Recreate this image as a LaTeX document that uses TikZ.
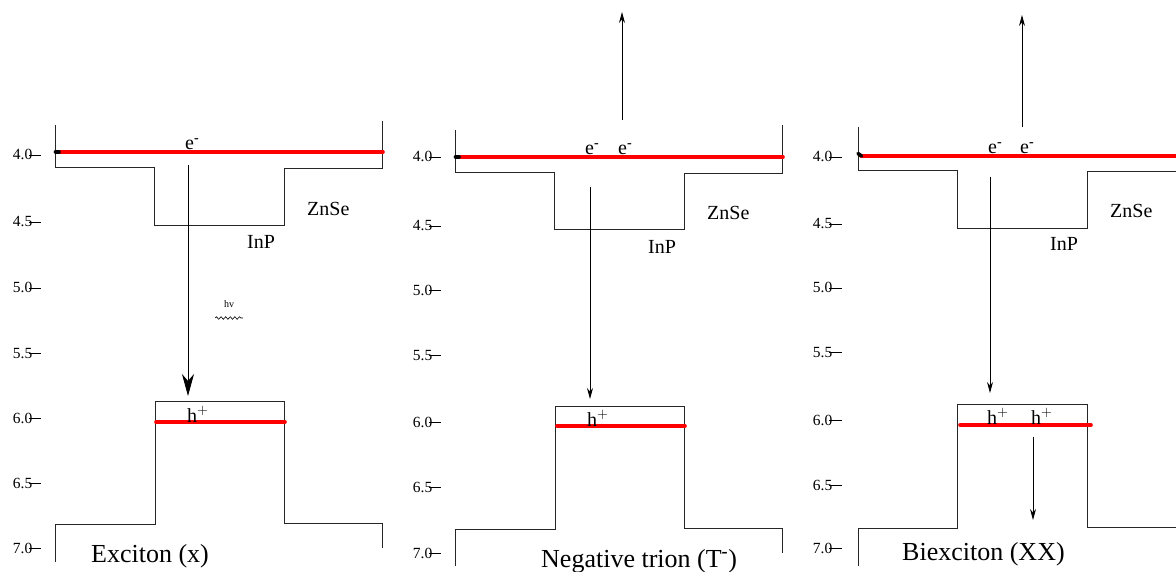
\documentclass[tikz,border=0pt]{standalone}
\usepackage{fontspec}
\setmainfont{Liberation Serif}
\usetikzlibrary{arrows.meta,decorations.pathmorphing}
\tikzset{
  band/.style={draw=black!85,line width=0.8pt},
  level/.style={draw=red,line width=3.6pt,line cap=round},
  dotend/.style={draw=black,line width=3.6pt,line cap=round},
  tick/.style={draw=black,line width=0.8pt},
  axlab/.style={anchor=base east,inner sep=0pt,font=\fontsize{15.5}{17}\selectfont},
  carrier/.style={anchor=base west,inner sep=0pt,font=\fontsize{20}{22}\selectfont},
  matlab/.style={anchor=base west,inner sep=0pt,font=\fontsize{20}{22}\selectfont},
  title/.style={anchor=base west,inner sep=0pt,font=\fontsize{26}{28}\selectfont},
  trans/.style={draw=black,line width=0.8pt,-{Stealth[length=11pt,width=6pt]}},
  bigtrans/.style={draw=black,line width=0.8pt,-{Stealth[length=22pt,width=12pt,inset=7pt]}},
}
\newcommand{\emin}{e\textsuperscript{\textbf{-}}}
\newcommand{\hplus}{h$^{+}$}
\begin{document}
\begin{tikzpicture}[x=1pt,y=-1pt]
\useasboundingbox (0,0) rectangle (1176,572);

% ===== axes =====
\foreach \lab/\yy [count=\i] in {4.0/155,4.5/222,5.0/288,5.5/353,6.0/418,6.5/483,7.0/548}{
  \node[axlab] (axa\i) at (32.5,\yy+5) {\lab};
  \draw[tick] (29,\yy) -- (41,\yy);
}
\foreach \lab/\yy [count=\i] in {4.0/157,4.5/226,5.0/290,5.5/355,6.0/422,6.5/487,7.0/553}{
  \node[axlab] (axb\i) at (432.5,\yy+5) {\lab};
  \draw[tick] (429,\yy) -- (441,\yy);
}
\foreach \lab/\yy [count=\i] in {4.0/157,4.5/224,5.0/288,5.5/352,6.0/420,6.5/485,7.0/548}{
  \node[axlab] (axc\i) at (832.5,\yy+5) {\lab};
  \draw[tick] (829,\yy) -- (842,\yy);
}

% ===== Panel 1: Exciton =====
\draw[band] (55,125) -- (55,167) -- (154,167) -- (154,225) -- (284,225) -- (284,168) -- (382,168) -- (382,121);
\draw[band] (55,562) -- (55,524) -- (155,524) -- (155,401) -- (284,401) -- (284,523) -- (382,523) -- (382,548);
\draw[level] (58,152) -- (383,152);
\draw[dotend] (55.5,152) -- (59,152);
\draw[level] (156,422) -- (285,422);
\node[carrier] (e1) at (185,150) {\emin};
\node[carrier] (h1) at (187,422) {\hplus};
\coordinate (a1s) at (188,165);
\coordinate (a1e) at (188,396);
\draw[bigtrans] (a1s) -- (a1e);
\node[anchor=base,inner sep=0pt,font=\fontsize{10}{11}\selectfont] (hv1) at (229,307) {hv};
\coordinate (w1s) at (215,318);
\coordinate (w1e) at (243,318);
\draw[line width=0.6pt,decorate,decoration={snake,amplitude=1.3pt,segment length=4.6pt}] (w1s) -- (w1e);
\node[matlab] (zn1) at (307,216) {ZnSe};
\node[matlab] (in1) at (247,249) {InP};
\node[title] (t1) at (91,562) {Exciton (x)};

% ===== Panel 2: Negative trion =====
\draw[band] (455,130) -- (455,172) -- (554,172) -- (554,229) -- (684,229) -- (684,173) -- (782,173) -- (782,125);
\draw[band] (455,566) -- (455,529) -- (555,529) -- (555,406) -- (684,406) -- (684,528) -- (782,528) -- (782,553);
\draw[level] (458,157) -- (783,157);
\draw[dotend] (455.5,157) -- (459,157);
\draw[level] (557,426) -- (685,426);
\node[carrier] (e2a) at (585,155) {\emin};
\node[carrier] (e2b) at (618,155) {\emin};
\node[carrier] (h2) at (587,426) {\hplus};
\coordinate (u2s) at (622,120);
\coordinate (u2e) at (622,12);
\draw[trans] (u2s) -- (u2e);
\coordinate (d2s) at (590,187);
\coordinate (d2e) at (590,399);
\draw[trans] (d2s) -- (d2e);
\node[matlab] (zn2) at (707,220) {ZnSe};
\node[matlab] (in2) at (648,254) {InP};
\node[title] (t2) at (541,567) {Negative trion (T\textsuperscript{\textbf{-}})};

% ===== Panel 3: Biexciton =====
\draw[band] (858,127) -- (858,170) -- (957,170) -- (957,228) -- (1087,228) -- (1087,171) -- (1176,171);
\draw[band] (858,566) -- (858,528) -- (957,528) -- (957,404) -- (1087,404) -- (1087,527) -- (1176,527);
\draw[level] (861,156) -- (1180,156);
\draw[dotend] (858,153.5) -- (861.5,156);
\draw[level] (960,425) -- (1091,425);
\node[carrier] (e3a) at (988,154) {\emin};
\node[carrier] (e3b) at (1020,154) {\emin};
\node[carrier] (h3a) at (987,424) {\hplus};
\node[carrier] (h3b) at (1031,424) {\hplus};
\coordinate (u3s) at (1022,127);
\coordinate (u3e) at (1022,15);
\draw[trans] (u3s) -- (u3e);
\coordinate (d3s) at (990,177);
\coordinate (d3e) at (990,393);
\draw[trans] (d3s) -- (d3e);
\coordinate (h3s) at (1033,437);
\coordinate (h3e) at (1033,520);
\draw[trans] (h3s) -- (h3e);
\node[matlab] (zn3) at (1110,218) {ZnSe};
\node[matlab] (in3) at (1050,251) {InP};
\node[title] (t3) at (902,560) {Biexciton (XX)};
\end{tikzpicture}
\end{document}
